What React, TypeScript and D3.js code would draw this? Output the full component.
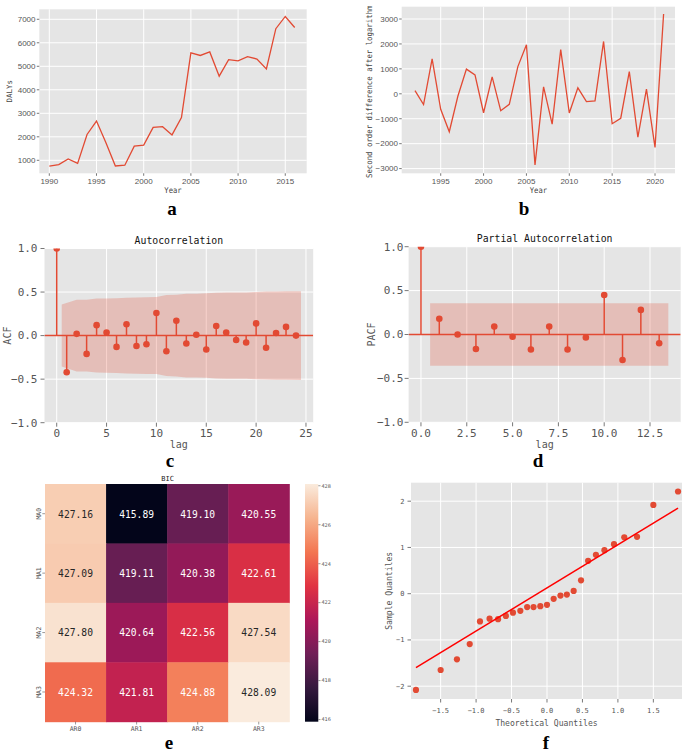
import React from 'react';
import * as d3 from 'd3';

// ---- data ----
const dalyStartYear = 1990;
const dalys = [750, 820, 1060, 870, 2100, 2670, 1750, 760, 790, 1600, 1650, 2400, 2430, 2080, 2820, 5570, 5460, 5610, 4580, 5280, 5230, 5410, 5310, 4890, 6600, 7120, 6650];
const dalyTicks = [1000, 2000, 3000, 4000, 5000, 6000, 7000];
const yearTicksA = [1990, 1995, 2000, 2005, 2010, 2015];

const diffStartYear = 1992;
const secondDiff = [130, -430, 1400, -620, -1520, -100, 990, 760, -760, 680, -680, -420, 1090, 1970, -2850, 280, -1220, 1770, -770, 240, -310, -280, 2100, -1200, -980, 890, -1740, 190, -2150, 3200];
const diffTicks = [-3000, -2000, -1000, 0, 1000, 2000, 3000];
const yearTicksB = [1995, 2000, 2005, 2010, 2015, 2020];

const acfValues = [1.0, -0.42, 0.02, -0.21, 0.12, 0.035, -0.13, 0.13, -0.12, -0.10, 0.26, -0.18, 0.17, -0.09, 0.01, -0.16, 0.11, 0.035, -0.05, -0.08, 0.14, -0.14, 0.03, 0.10, 0.0];
const acfConf = [0.356, 0.412, 0.413, 0.425, 0.427, 0.43, 0.435, 0.437, 0.44, 0.442, 0.465, 0.47, 0.48, 0.481, 0.485, 0.492, 0.494, 0.494, 0.495, 0.5, 0.505, 0.507, 0.508, 0.51];
const acfLagTicks = [0, 5, 10, 15, 20, 25];
const corrTicks = [-1, -0.5, 0, 0.5, 1];

const pacfValues = [1.0, 0.18, 0.0, -0.165, 0.09, -0.025, -0.17, 0.09, -0.17, -0.035, 0.45, -0.29, 0.28, -0.10];
const pacfConf = 0.355;
const pacfLagTicks = [0, 2.5, 5, 7.5, 10, 12.5];

const arLabels = ['AR0', 'AR1', 'AR2', 'AR3'];
const maLabels = ['MA0', 'MA1', 'MA2', 'MA3'];
const bicMA0 = [427.16, 415.89, 419.10, 420.55];
const bicMA1 = [427.09, 419.11, 420.38, 422.61];
const bicMA2 = [427.80, 420.64, 422.56, 427.54];
const bicMA3 = [424.32, 421.81, 424.88, 428.09];
const bicRows = [bicMA0, bicMA1, bicMA2, bicMA3];
const bicTicks = [416, 418, 420, 422, 424, 426, 428];
const rocketColors = ['#03051a', '#35193e', '#701f57', '#ad1759', '#e13342', '#f37651', '#f6b48f', '#faebdd'];

const qqTheoretical = [-1.848, -1.50, -1.27, -1.09, -0.945, -0.81, -0.69, -0.58, -0.48, -0.376, -0.28, -0.19, -0.094, 0, 0.094, 0.19, 0.28, 0.376, 0.48, 0.58, 0.69, 0.81, 0.945, 1.09, 1.27, 1.50, 1.848];
const qqSample = [-2.08, -1.65, -1.42, -1.09, -0.60, -0.54, -0.55, -0.48, -0.41, -0.37, -0.29, -0.29, -0.27, -0.24, -0.11, -0.04, -0.02, 0.06, 0.29, 0.71, 0.84, 0.94, 1.07, 1.22, 1.23, 1.92, 2.21];
const qqLineTheoretical = [-1.848, 1.848];
const qqLineSample = [-1.60, 1.85];
const qqTicksX = [-1.5, -1.0, -0.5, 0, 0.5, 1.0, 1.5];
const qqTicksY = [-2, -1, 0, 1, 2];

// ---- styles ----
const MONO = "'DejaVu Sans Mono', 'Liberation Mono', monospace";
const SANS = "'Liberation Sans', Arial, sans-serif";
const SERIF = "'Liberation Serif', 'Times New Roman', serif";
const BG = '#E5E5E5';
const RED = '#E24A33';
const GREY = '#555555';
const fmt1 = d3.format('.1f');
const fmtInt = d3.format('d');

function Label({ x, y, size, text, family = MONO, anchor = 'middle', rotate = 0, sx = 1, fill = '#444', weight = 'normal' }: any) {
  const tr = `translate(${x},${y})` + (rotate ? ` rotate(${rotate})` : '') + (sx !== 1 ? ` scale(${sx},1)` : '');
  return (
    <text transform={tr} fontFamily={family} fontSize={size} textAnchor={anchor} fill={fill} fontWeight={weight}>
      {text}
    </text>
  );
}

function Letter({ x, y, text }: any) {
  return <text x={x} y={y} fontFamily={SERIF} fontWeight="bold" fontSize={19} textAnchor="middle" fill="#000">{text}</text>;
}

function Plot({ x, y, xTicks, yTicks }: any) {
  const [x0, x1] = x.range();
  const [y0, y1] = y.range();
  return (
    <g>
      <rect x={x0} y={y1} width={x1 - x0} height={y0 - y1} fill={BG} />
      {xTicks.map((t: number) => (
        <line key={'gx' + t} x1={x(t)} x2={x(t)} y1={y1} y2={y0} stroke="#fff" strokeWidth={1} />
      ))}
      {yTicks.map((t: number) => (
        <line key={'gy' + t} x1={x0} x2={x1} y1={y(t)} y2={y(t)} stroke="#fff" strokeWidth={1} />
      ))}
    </g>
  );
}

function XTicks({ x, y0, ticks, len, labelY, size, family, fmt }: any) {
  return (
    <g>
      {ticks.map((t: number) => (
        <g key={t}>
          <line x1={x(t)} x2={x(t)} y1={y0} y2={y0 + len} stroke={GREY} strokeWidth={0.8} />
          <text x={x(t)} y={labelY} fontFamily={family} fontSize={size} fill={GREY} textAnchor="middle">{fmt(t)}</text>
        </g>
      ))}
    </g>
  );
}

function YTicks({ y, x0, ticks, len, labelX, size, family, fmt }: any) {
  return (
    <g>
      {ticks.map((t: number) => (
        <g key={t}>
          <line x1={x0 - len} x2={x0} y1={y(t)} y2={y(t)} stroke={GREY} strokeWidth={0.8} />
          <text x={labelX} y={y(t)} dy="0.35em" fontFamily={family} fontSize={size} fill={GREY} textAnchor="end">{fmt(t)}</text>
        </g>
      ))}
    </g>
  );
}

function PanelA() {
  const x = d3.scaleLinear().domain([1988.94, 2017.27]).range([39.3, 306.7]);
  const y = d3.scaleLinear().domain([447, 7425]).range([173.3, 9.3]);
  const line = d3.line<number>().x((_, i) => x(dalyStartYear + i)).y(d => y(d));
  return (
    <g>
      <Plot x={x} y={y} xTicks={yearTicksA} yTicks={dalyTicks} />
      <path d={line(dalys) || ''} fill="none" stroke={RED} strokeWidth={1.3} />
      <XTicks x={x} y0={173.3} ticks={yearTicksA} len={2.5} labelY={184} size={8} family={SANS} fmt={String} />
      <YTicks y={y} x0={39.3} ticks={dalyTicks} len={2.5} labelX={35.5} size={8} family={SANS} fmt={String} />
      <Label x={173} y={193} size={8} text="Year" sx={0.9} />
      <Label x={11.7} y={91.3} size={7.5} text="DALYs" rotate={-90} />
      <Letter x={172} y={215} text="a" />
    </g>
  );
}

function PanelB() {
  const x = d3.scaleLinear().domain([1990.45, 2022.33]).range([401.7, 675]);
  const y = d3.scaleLinear().domain([-3189, 3494]).range([173.3, 6.7]);
  const line = d3.line<number>().x((_, i) => x(diffStartYear + i)).y(d => y(d));
  return (
    <g>
      <Plot x={x} y={y} xTicks={yearTicksB} yTicks={diffTicks} />
      <path d={line(secondDiff) || ''} fill="none" stroke={RED} strokeWidth={1.3} />
      <XTicks x={x} y0={173.3} ticks={yearTicksB} len={2.5} labelY={183.5} size={8} family={SANS} fmt={fmtInt} />
      <YTicks y={y} x0={401.7} ticks={diffTicks} len={2.5} labelX={398} size={8} family={SANS} fmt={fmtInt} />
      <Label x={538.4} y={193} size={8} text="Year" sx={0.9} />
      <Label x={372} y={178} size={8} sx={0.92} text="Second order difference after logarithm" rotate={-90} anchor="start" />
      <Letter x={524} y={215} text="b" />
    </g>
  );
}

function CorrPanel({ id, values, conf, xDomain, xRange, yRange, xTicks, fmtX, title, titleY, ylabel, ylabelX, yLabelEnd, letter, letterX }: any) {
  const x = d3.scaleLinear().domain(xDomain).range(xRange);
  const y = d3.scaleLinear().domain([-1, 1]).range(yRange);
  const [x0, x1] = xRange;
  const [yb, yt] = yRange;
  const n = conf.length;
  const bandPts = conf.map((c: number, i: number) => [i + 1 + (i === 0 ? -0.5 : 0) + (i === n - 1 ? 0.5 : 0), c]);
  const area = d3.area<number[]>().x(d => x(d[0])).y0(d => y(-d[1])).y1(d => y(d[1]));
  const cx = (x0 + x1) / 2;
  return (
    <g>
      <defs>
        <clipPath id={id}><rect x={x0} y={yt} width={x1 - x0} height={yb - yt} /></clipPath>
      </defs>
      <Plot x={x} y={y} xTicks={xTicks} yTicks={corrTicks} />
      <g clipPath={`url(#${id})`}>
        {values.map((v: number, i: number) => (
          <line key={'s' + i} x1={x(i)} x2={x(i)} y1={y(0)} y2={y(v)} stroke={RED} strokeWidth={1.5} />
        ))}
        <line x1={x0} x2={x1} y1={y(0)} y2={y(0)} stroke={RED} strokeWidth={1.5} />
        {values.map((v: number, i: number) => (
          <circle key={'m' + i} cx={x(i)} cy={y(v)} r={3.3} fill={RED} />
        ))}
        <path d={area(bandPts) || ''} fill={RED} fillOpacity={0.25} />
      </g>
      <XTicks x={x} y0={yb} ticks={xTicks} len={4} labelY={437} size={11} family={MONO} fmt={fmtX} />
      <YTicks y={y} x0={x0} ticks={corrTicks} len={4} labelX={yLabelEnd} size={11} family={MONO} fmt={fmt1} />
      <Label x={cx} y={titleY} size={9.8} text={title} fill="#111" />
      <Label x={cx} y={447.5} size={10} text="lag" fill={GREY} />
      <Label x={ylabelX} y={(yb + yt) / 2} size={10} text={ylabel} rotate={-90} fill={GREY} />
      <Letter x={letterX} y={467} text={letter} />
    </g>
  );
}

function luminance(c: string) {
  const rgb = d3.rgb(c);
  const lin = (v: number) => {
    const s = v / 255;
    return s <= 0.03928 ? s / 12.92 : Math.pow((s + 0.055) / 1.055, 2.4);
  };
  return 0.2126 * lin(rgb.r) + 0.7152 * lin(rgb.g) + 0.0722 * lin(rgb.b);
}

function PanelE() {
  const all = bicRows.flat();
  const vmin = d3.min(all) as number;
  const vmax = d3.max(all) as number;
  const stops = rocketColors.map((_, i) => i / (rocketColors.length - 1));
  const rocket = d3.scaleLinear<string>().domain(stops).range(rocketColors).interpolate(d3.interpolateRgb);
  const color = (v: number) => rocket((v - vmin) / (vmax - vmin));
  const cx = d3.scaleBand().domain(arLabels).range([45, 289.3]);
  const ry = d3.scaleBand().domain(maLabels).range([484, 721.7]);
  const cb = d3.scaleLinear().domain([vmin, vmax]).range([721.7, 484]);
  return (
    <g>
      <defs>
        <linearGradient id="rocketGrad" x1="0" y1="1" x2="0" y2="0">
          {rocketColors.map((c, i) => <stop key={i} offset={stops[i]} stopColor={c} />)}
        </linearGradient>
      </defs>
      {bicRows.map((row, r) =>
        row.map((v, c) => {
          const fill = color(v);
          const x = cx(arLabels[c]) as number;
          const y = ry(maLabels[r]) as number;
          return (
            <g key={r + '-' + c}>
              <rect x={x} y={y} width={cx.bandwidth() + 0.5} height={ry.bandwidth() + 0.5} fill={fill} />
              <text transform={`translate(${x + cx.bandwidth() / 2},${y + ry.bandwidth() / 2}) scale(0.92,1)`} dy="0.36em"
                fontFamily={MONO} fontSize={10.5} textAnchor="middle" fill={luminance(fill) > 0.408 ? '#262626' : '#ffffff'}>
                {v.toFixed(2)}
              </text>
            </g>
          );
        })
      )}
      {arLabels.map(a => {
        const x = (cx(a) as number) + cx.bandwidth() / 2;
        return (
          <g key={a}>
            <line x1={x} x2={x} y1={721.7} y2={724.5} stroke={GREY} strokeWidth={0.6} />
            <text x={x} y={731} fontFamily={MONO} fontSize={6.5} fill={GREY} textAnchor="middle">{a}</text>
          </g>
        );
      })}
      {maLabels.map(m => {
        const y = (ry(m) as number) + ry.bandwidth() / 2;
        return (
          <g key={m}>
            <line x1={42.3} x2={45} y1={y} y2={y} stroke={GREY} strokeWidth={0.6} />
            <Label x={40.5} y={y} size={6.5} text={m} rotate={-90} fill={GREY} />
          </g>
        );
      })}
      <Label x={167.7} y={481} size={7} text="BIC" fill="#222" />
      <rect x={305} y={484} width={13.3} height={237.7} fill="url(#rocketGrad)" />
      {bicTicks.map(t => (
        <g key={t}>
          <line x1={318.3} x2={320.5} y1={cb(t)} y2={cb(t)} stroke={GREY} strokeWidth={0.6} />
          <text x={321.5} y={cb(t)} dy="0.35em" fontFamily={MONO} fontSize={5.2} fill={GREY}>{t}</text>
        </g>
      ))}
      <Letter x={169} y={749} text="e" />
    </g>
  );
}

function PanelF() {
  const x = d3.scaleLinear().domain([-1.918, 1.904]).range([411, 682]);
  const y = d3.scaleLinear().domain([-2.277, 2.4]).range([699, 482.7]);
  return (
    <g>
      <Plot x={x} y={y} xTicks={qqTicksX} yTicks={qqTicksY} />
      {qqTheoretical.map((t, i) => (
        <circle key={i} cx={x(t)} cy={y(qqSample[i])} r={3.1} fill={RED} />
      ))}
      <line x1={x(qqLineTheoretical[0])} x2={x(qqLineTheoretical[1])} y1={y(qqLineSample[0])} y2={y(qqLineSample[1])} stroke="#FF0000" strokeWidth={1.5} />
      <XTicks x={x} y0={699} ticks={qqTicksX} len={3.5} labelY={713} size={7} family={MONO} fmt={fmt1} />
      <YTicks y={y} x0={411} ticks={qqTicksY} len={3.5} labelX={404.5} size={7} family={MONO} fmt={fmtInt} />
      <Label x={546.5} y={725.5} size={9} sx={0.9} text="Theoretical Quantiles" fill={GREY} />
      <Label x={392} y={590.8} size={9} sx={0.9} text="Sample Quantiles" rotate={-90} fill={GREY} />
      <Letter x={546} y={749} text="f" />
    </g>
  );
}

export default function App() {
  return (
    <svg width={685} height={754} style={{ position: 'absolute', left: 0, top: 0, background: '#fff' }}>
      <PanelA />
      <PanelB />
      <CorrPanel id="clipAcf" values={acfValues} conf={acfConf} xDomain={[-1.225, 25.725]} xRange={[44.5, 313.2]}
        yRange={[422.7, 248.5]} xTicks={acfLagTicks} fmtX={String} title="Autocorrelation" titleY={243.5}
        ylabel="ACF" ylabelX={10.5} yLabelEnd={37.5} letter="c" letterX={170} />
      <CorrPanel id="clipPacf" values={pacfValues} conf={pacfValues.slice(1).map(() => pacfConf)} xDomain={[-0.675, 14.175]}
        xRange={[408.6, 680.7]} yRange={[422.3, 246.7]} xTicks={pacfLagTicks} fmtX={fmt1} title="Partial Autocorrelation"
        titleY={242.3} ylabel="PACF" ylabelX={375} yLabelEnd={403.5} letter="d" letterX={538} />
      <PanelE />
      <PanelF />
    </svg>
  );
}
